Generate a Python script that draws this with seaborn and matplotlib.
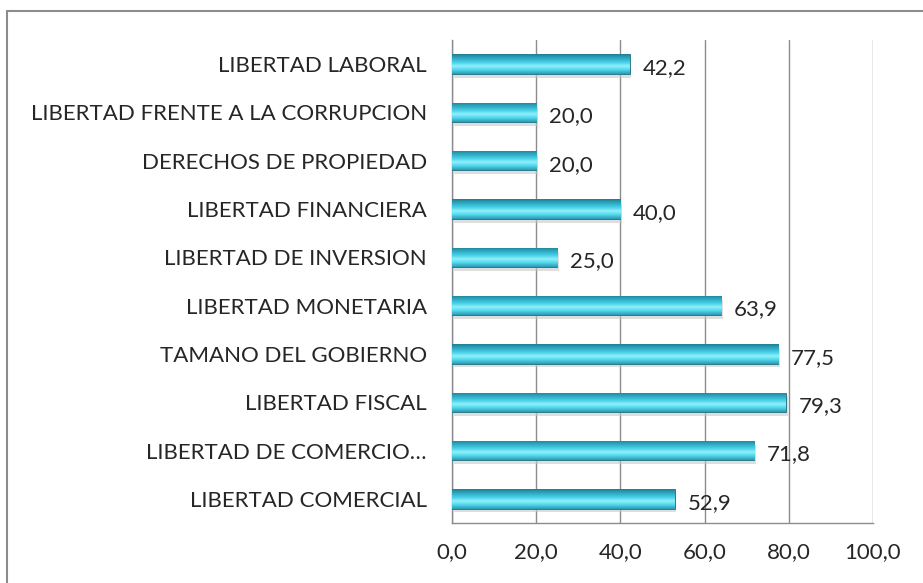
import numpy as np
import pandas as pd
import seaborn as sns
import matplotlib.pyplot as plt
from matplotlib.colors import LinearSegmentedColormap
from matplotlib.patches import Rectangle

# Data (top to bottom)
categorias = [
    'LIBERTAD LABORAL',
    'LIBERTAD FRENTE A LA CORRUPCION',
    'DERECHOS DE PROPIEDAD',
    'LIBERTAD FINANCIERA',
    'LIBERTAD DE INVERSION',
    'LIBERTAD MONETARIA',
    'TAMANO DEL GOBIERNO',
    'LIBERTAD FISCAL',
    'LIBERTAD DE COMERCIO…',
    'LIBERTAD COMERCIAL',
]
valores = [42.2, 20.0, 20.0, 40.0, 25.0, 63.9, 77.5, 79.3, 71.8, 52.9]
ticks_x = [0, 20, 40, 60, 80, 100]

df = pd.DataFrame({'categoria': categorias, 'valor': valores})

sns.set_style('white')
plt.rcParams['font.family'] = ['Lato', 'DejaVu Sans']

fig = plt.figure(figsize=(9.23, 5.83), dpi=100)
ax = fig.add_axes([0.4897, 0.1029, 0.4561, 0.8285])

sns.barplot(data=df, y='categoria', x='valor', orient='h', color='#3cc4dc',
            width=0.4, ax=ax, zorder=3)

# cylinder-like shading on each bar
cmap = LinearSegmentedColormap.from_list(
    'cyl', ['#1f7f95', '#2fa9c2', '#45cde5', '#8ef0fc', '#4fd4ea', '#2a9cb4'])
grad = np.linspace(0, 1, 64).reshape(-1, 1)
for p in list(ax.patches):
    x0, y0 = p.get_x(), p.get_y()
    w, h = p.get_width(), p.get_height()
    # drop shadow
    ax.add_patch(Rectangle((x0 + 0.4, y0 + 0.08), w, h, color='#c8c8c8',
                           alpha=0.6, zorder=2, lw=0))
    im = ax.imshow(grad, extent=(x0, x0 + w, y0 + h, y0), cmap=cmap,
                   aspect='auto', zorder=4)
    im.set_clip_path(p)
    p.set_edgecolor('#1b6d80')
    p.set_linewidth(0.6)

ax.set_xlim(0, 100)
ax.set_ylim(len(categorias) - 0.5, -0.5)
ax.set_xticks(ticks_x)
ax.set_xticklabels([f'{t:.1f}'.replace('.', ',') for t in ticks_x], fontsize=16)
ax.tick_params(axis='y', length=0, pad=18, labelsize=16)
ax.set_yticks(np.arange(-0.5, len(categorias), 1), minor=True)
ax.tick_params(axis='y', which='minor', length=8, color='#8c8c8c', width=1)
ax.tick_params(axis='x', length=8, color='#8c8c8c', width=1, pad=6)
ax.set_xlabel('')
ax.set_ylabel('')

ax.grid(axis='x', color='#8c8c8c', lw=1, zorder=0)
ax.set_axisbelow(True)
for s in ['top', 'right']:
    ax.spines[s].set_visible(False)
for s in ['left', 'bottom']:
    ax.spines[s].set_color('#8c8c8c')
    ax.spines[s].set_linewidth(1)

for i, v in enumerate(valores):
    ax.text(v + 3, i + 0.08, f'{v:.1f}'.replace('.', ','), va='center',
            ha='left', fontsize=16, zorder=5)

# outer frame
fig.patches.append(Rectangle((7 / 923, -0.05), 1.0, 1 - 10.5 / 583 + 0.05,
                             transform=fig.transFigure, fill=False,
                             edgecolor='#8c8c8c', lw=1.5))

fig.savefig('out.png', dpi=100)
